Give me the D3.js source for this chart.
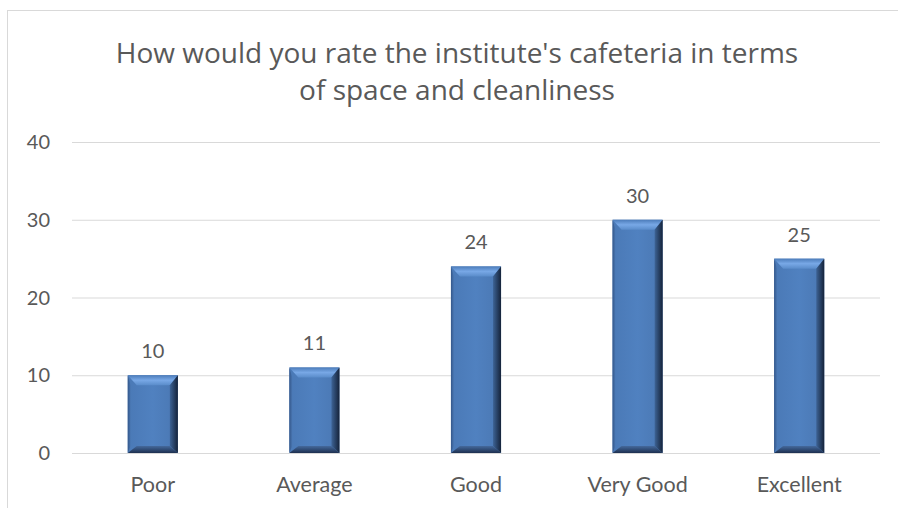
<!DOCTYPE html>
<html>
<head>
<meta charset="utf-8">
<script src="https://cdn.jsdelivr.net/npm/d3@7"></script>
<style>
  body { margin: 0; background: #fff; }
  text { font-family: Lato, "Open Sans", sans-serif; fill: #595959; }
</style>
</head>
<body>
<div id="chart"></div>
<script>
const categories = ['Poor', 'Average', 'Good', 'Very Good', 'Excellent'];
const values = [10, 11, 24, 30, 25];
const yTicks = [0, 10, 20, 30, 40];
const titleLines = ["How would you rate the institute's cafeteria in terms", 'of space and cleanliness'];

const width = 898, height = 508;
const margin = { left: 72, right: 18, top: 142, bottom: 55 };

const svg = d3.select('#chart').append('svg')
  .attr('width', width)
  .attr('height', height);

// chart area border (runs off the right and bottom edges)
svg.append('rect')
  .attr('x', 7.5).attr('y', 10.5)
  .attr('width', width).attr('height', height)
  .attr('fill', 'none')
  .attr('stroke', '#d9d9d9');

const x = d3.scaleBand()
  .domain(categories)
  .range([margin.left, width - margin.right])
  .paddingInner(0.69)
  .paddingOuter(0.345);

const y = d3.scaleLinear()
  .domain([0, 40])
  .range([height - margin.bottom, margin.top]);

// gridlines
svg.append('g')
  .selectAll('line')
  .data(yTicks)
  .join('line')
  .attr('x1', margin.left).attr('x2', width - margin.right)
  .attr('y1', d => y(d) + 0.5).attr('y2', d => y(d) + 0.5)
  .attr('stroke', '#d9d9d9');

// y labels
svg.append('g')
  .selectAll('text')
  .data(yTicks)
  .join('text')
  .attr('x', 50)
  .attr('y', d => y(d))
  .attr('dy', '0.35em')
  .attr('text-anchor', 'end')
  .style('font-size', '20px')
  .text(d => d);

// x labels
svg.append('g')
  .selectAll('text')
  .data(categories)
  .join('text')
  .attr('x', d => x(d) + x.bandwidth() / 2)
  .attr('y', 492)
  .attr('text-anchor', 'middle')
  .style('font-size', '21.5px')
  .text(d => d);

// gradients for bevels
const defs = svg.append('defs');
function grad(id, x1, y1, x2, y2, stops) {
  const g = defs.append('linearGradient').attr('id', id)
    .attr('x1', x1).attr('y1', y1).attr('x2', x2).attr('y2', y2);
  stops.forEach(s => g.append('stop').attr('offset', s[0]).attr('stop-color', s[1]));
}
grad('bodyGrad', 0, 0, 1, 0, [[0, '#4a79b6'], [0.5, '#5081c0'], [1, '#4a77b2']]);
grad('topGrad', 0, 0, 0, 1, [[0, '#4c7cba'], [0.5, '#78a8e6'], [1, '#5a8cca']]);
grad('rightGrad', 0, 0, 1, 0, [[0, '#3d6395'], [1, '#15233a']]);
grad('bottomGrad', 0, 0, 0, 1, [[0, '#44699c'], [1, '#1e3050']]);
grad('leftGrad', 0, 0, 1, 0, [[0, '#34578a'], [1, '#4a78b4']]);

const bw = x.bandwidth();
const bt = 10, br = 8, bb = 7, bl = 3;

const bars = svg.append('g')
  .selectAll('g')
  .data(values)
  .join('g');

bars.append('rect')
  .attr('x', (d, i) => x(categories[i]))
  .attr('y', d => y(d))
  .attr('width', bw)
  .attr('height', d => y(0) - y(d))
  .attr('fill', 'url(#bodyGrad)');

// top bevel
bars.append('polygon')
  .attr('fill', 'url(#topGrad)')
  .attr('points', (d, i) => {
    const x0 = x(categories[i]), x1 = x0 + bw, t = y(d);
    return [[x0, t], [x1, t], [x1 - br, t + bt], [x0 + bl + 6, t + bt]].join(' ');
  });
// right bevel
bars.append('polygon')
  .attr('fill', 'url(#rightGrad)')
  .attr('points', (d, i) => {
    const x0 = x(categories[i]), x1 = x0 + bw, t = y(d), b = y(0);
    return [[x1, t], [x1, b], [x1 - br, b - bb], [x1 - br, t + bt]].join(' ');
  });
// bottom bevel
bars.append('polygon')
  .attr('fill', 'url(#bottomGrad)')
  .attr('points', (d, i) => {
    const x0 = x(categories[i]), x1 = x0 + bw, b = y(0);
    return [[x0, b], [x1, b], [x1 - br, b - bb], [x0 + bl + 6, b - bb]].join(' ');
  });
// left bevel
bars.append('polygon')
  .attr('fill', 'url(#leftGrad)')
  .attr('points', (d, i) => {
    const x0 = x(categories[i]), t = y(d), b = y(0);
    return [[x0, t], [x0 + bl, t + bt], [x0 + bl, b - bb], [x0, b]].join(' ');
  });

// data labels
svg.append('g')
  .selectAll('text')
  .data(values)
  .join('text')
  .attr('x', (d, i) => x(categories[i]) + bw / 2)
  .attr('y', d => y(d) - 17)
  .attr('text-anchor', 'middle')
  .style('font-size', '20px')
  .text(d => d);

// title
svg.append('g')
  .selectAll('text')
  .data(titleLines)
  .join('text')
  .attr('x', 457)
  .attr('y', (d, i) => 63 + i * 37)
  .attr('text-anchor', 'middle')
  .style('font-family', '"Open Sans", sans-serif')
  .style('font-size', '28px')
  .text(d => d);
</script>
</body>
</html>
